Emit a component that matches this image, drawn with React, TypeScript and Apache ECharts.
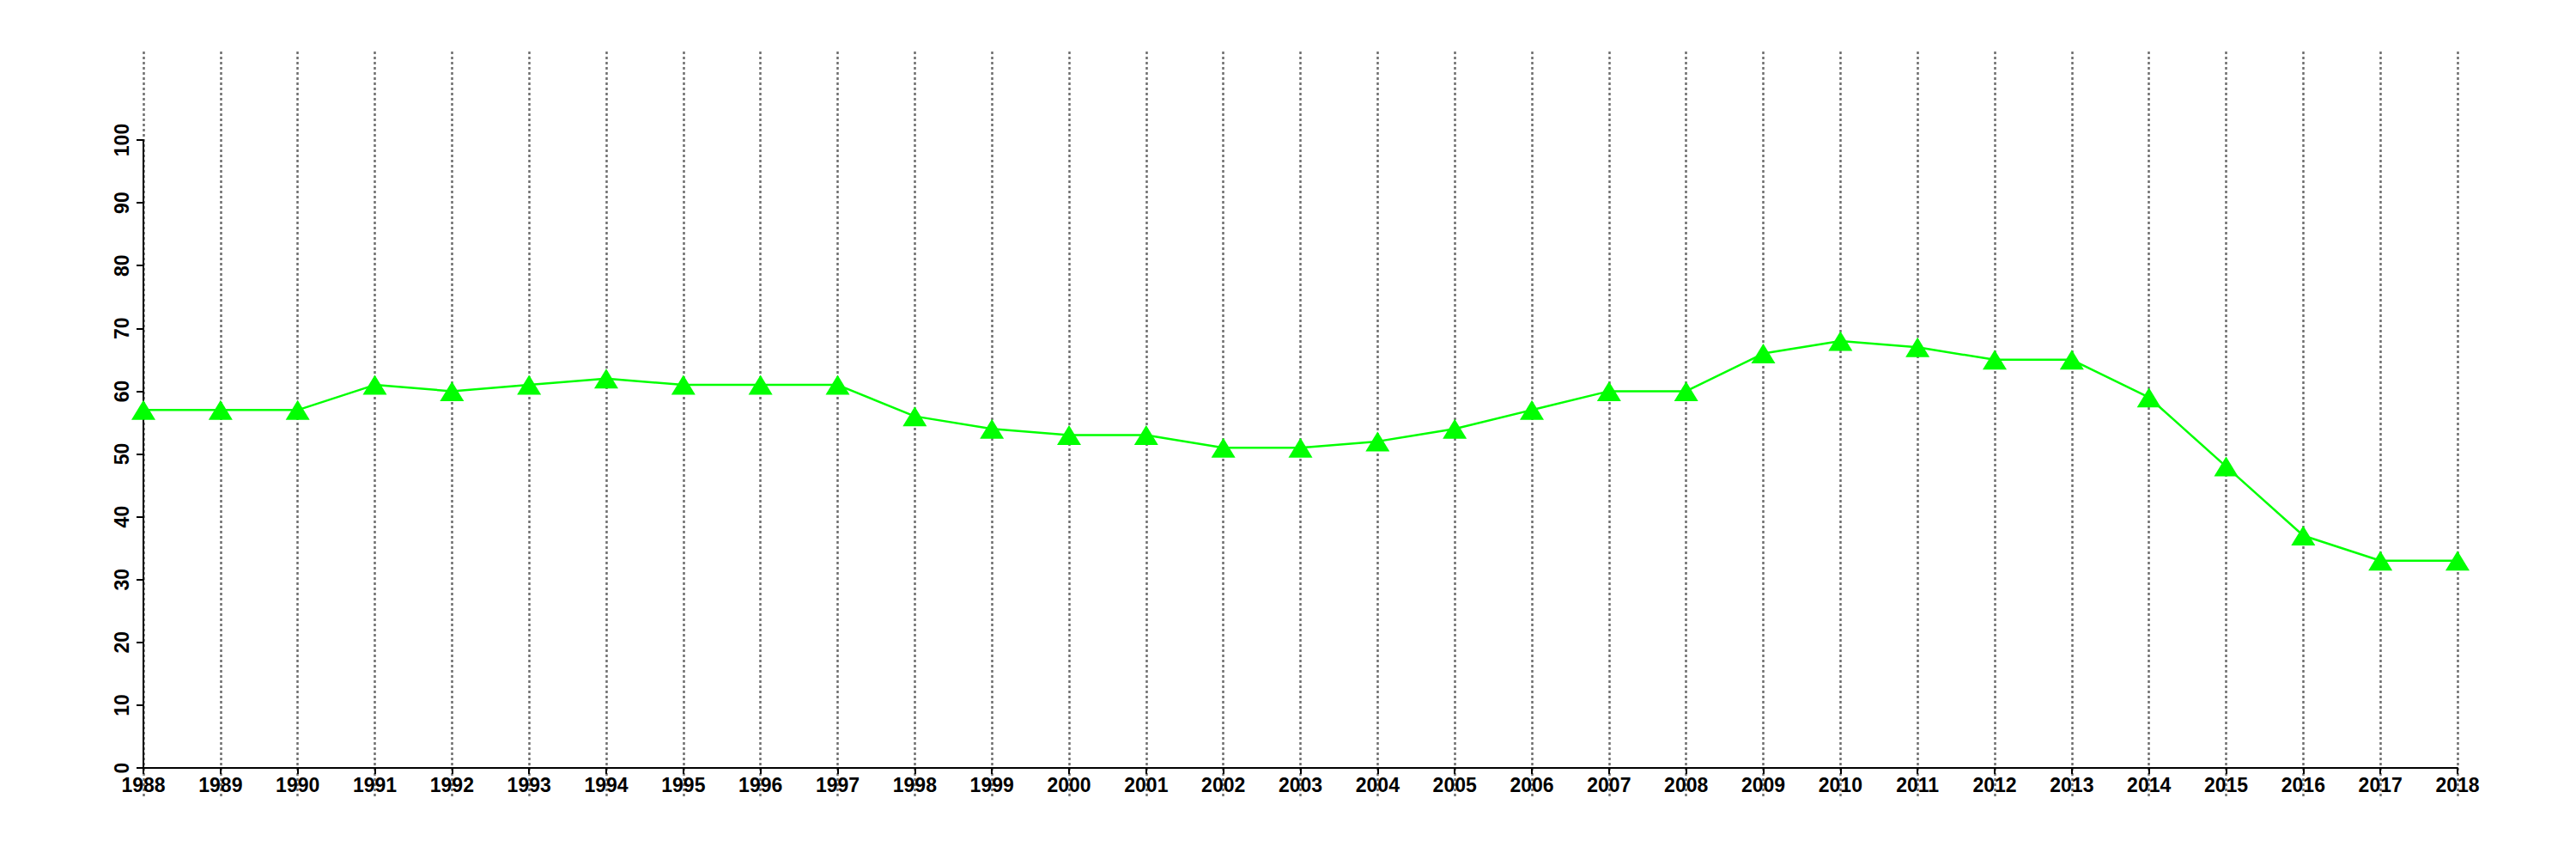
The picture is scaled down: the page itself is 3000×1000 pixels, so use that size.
import React, { useEffect, useRef } from "react";
import * as echarts from "echarts";

const years = [
  "1988", "1989", "1990", "1991", "1992", "1993", "1994", "1995", "1996", "1997",
  "1998", "1999", "2000", "2001", "2002", "2003", "2004", "2005", "2006", "2007",
  "2008", "2009", "2010", "2011", "2012", "2013", "2014", "2015", "2016", "2017", "2018",
];
const values = [
  57, 57, 57, 61, 60, 61, 62, 61, 61, 61,
  56, 54, 53, 53, 51, 51, 52, 54, 57, 60,
  60, 66, 68, 67, 65, 65, 59, 48, 37, 33, 33,
];
const yMin = 0;
const yMax = 100;
const yStep = 10;

const FONT = "'Liberation Sans', Arial, Helvetica, sans-serif";

export default function App() {
  const ref = useRef<HTMLDivElement>(null);
  useEffect(() => {
    if (!ref.current) return;
    const chart = echarts.init(ref.current, undefined, { renderer: "svg" });
    chart.setOption({
      animation: false,
      backgroundColor: "#ffffff",
      grid: [
        { left: 167, right: 138, top: 163, height: 731, containLabel: false },
        { left: 167, right: 138, top: 60, bottom: 73, containLabel: false },
      ],
      xAxis: [
        {
          type: "category",
          gridIndex: 0,
          data: years,
          boundaryGap: false,
          axisLine: { show: true, onZero: false, lineStyle: { color: "#000", width: 2 } },
          axisTick: { show: true, length: 7, interval: 0, lineStyle: { color: "#000", width: 2 } },
          axisLabel: {
            interval: 0,
            color: "#000",
            fontSize: 23,
            fontWeight: "bold",
            fontFamily: FONT,
            margin: 8,
          },
          splitLine: { show: false },
          z: 3,
        },
        {
          type: "category",
          gridIndex: 1,
          data: years,
          boundaryGap: false,
          axisLine: { show: false },
          axisTick: { show: false },
          axisLabel: { show: false },
          splitLine: {
            show: true,
            interval: 0,
            lineStyle: { color: "#6e6e6e", width: 2.5, type: [3, 3] },
          },
          z: 0,
        },
      ],
      yAxis: [
        {
          type: "value",
          gridIndex: 0,
          min: yMin,
          max: yMax,
          interval: yStep,
          axisLine: { show: true, lineStyle: { color: "#000", width: 2 } },
          axisTick: { show: true, length: 8, lineStyle: { color: "#000", width: 2 } },
          axisLabel: {
            rotate: 90,
            color: "#000",
            fontSize: 23,
            fontWeight: "bold",
            fontFamily: FONT,
            margin: 14,
          },
          splitLine: { show: false },
          z: 3,
        },
        {
          type: "value",
          gridIndex: 1,
          show: false,
          splitLine: { show: false },
        },
      ],
      series: [
        {
          type: "line",
          xAxisIndex: 0,
          yAxisIndex: 0,
          data: values,
          symbol: "triangle",
          symbolSize: [28, 23],
          showAllSymbol: true,
          itemStyle: { color: "#00ff00" },
          lineStyle: { color: "#00ff00", width: 2.5 },
          z: 5,
        },
      ],
    });
    return () => chart.dispose();
  }, []);
  return (
    <div
      ref={ref}
      style={{ position: "fixed", left: 0, top: 0, width: 3000, height: 1000, background: "#fff" }}
    />
  );
}
